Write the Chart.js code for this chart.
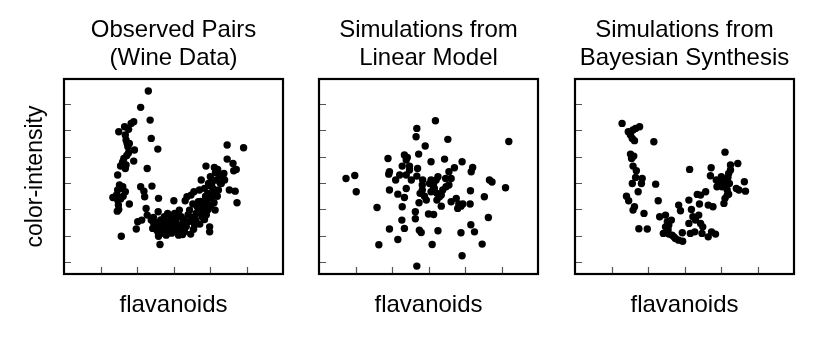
<!DOCTYPE html>
<html>
<head>
<meta charset="utf-8">
<script src="https://cdn.jsdelivr.net/npm/chart.js@4/dist/chart.umd.min.js"></script>
<style>
  body { margin: 0; background: #fff; }
  .panel { position: absolute; top: 0; height: 340px; }
</style>
</head>
<body>
<div class="panel" style="left:0px;width:300px"><canvas id="p1" width="300" height="340"></canvas></div>
<div class="panel" style="left:279px;width:300px"><canvas id="p2" width="300" height="340"></canvas></div>
<div class="panel" style="left:535px;width:295px"><canvas id="p3" width="295" height="340"></canvas></div>
<script>
// axis ticks (no labels shown, ticks point inward)
const xTicks = [0, 1, 2, 3, 4];
const yTicks = [0, 2, 4, 6, 8, 10, 12];
const xLabel = "flavanoids";
const yLabel = "color-intensity";

const titleObserved = ["Observed Pairs", "(Wine Data)"];
const titleLinear = ["Simulations from", "Linear Model"];
const titleBayes = ["Simulations from", "Bayesian Synthesis"];

// [flavanoids, color-intensity]
const observedPairs = [
  [1.31,12.99],[1.10,11.75],[1.36,10.78],[0.91,10.66],[0.84,10.53],[0.66,10.28],[0.77,10.08],[0.50,9.90],
  [0.68,9.65],[0.73,9.00],[0.70,9.27],[0.79,9.01],[1.39,9.39],[0.75,8.76],[0.93,8.51],[0.77,8.30],
  [0.72,8.10],[1.57,8.58],[0.64,7.87],[0.61,7.62],[0.91,7.67],[0.55,7.30],[0.60,7.50],[0.70,7.37],
  [0.68,7.11],[1.28,7.11],[0.47,6.61],[0.52,5.85],[0.57,5.60],[0.61,5.72],[0.47,5.47],[0.68,5.34],
  [0.44,5.10],[0.62,5.00],[0.55,4.80],[0.34,4.91],[0.47,4.71],[0.49,4.33],[0.50,4.00],[0.79,4.41],
  [0.46,3.87],[0.57,1.97],[1.10,5.72],[1.19,5.39],[1.21,4.96],[1.41,5.77],[1.59,4.84],[1.25,4.08],
  [1.28,3.57],[1.58,3.83],[1.02,3.06],[0.98,2.51],[1.13,3.19],[1.39,3.19],[1.46,2.94],[1.43,2.56],
  [1.53,2.48],[1.57,2.30],[1.59,1.97],[1.63,1.34],[1.66,2.73],[1.75,3.44],[1.84,3.70],[1.80,3.06],
  [1.89,2.94],[1.94,3.32],[2.01,4.66],[2.03,3.70],[2.07,3.19],[2.10,2.73],[2.14,2.05],[2.16,3.95],
  [2.21,3.44],[2.26,2.94],[2.30,2.30],[2.32,4.66],[2.37,4.96],[2.44,3.95],[2.47,2.13],[2.48,5.09],
  [2.53,4.41],[2.56,5.34],[2.58,2.81],[2.62,3.70],[2.65,4.20],[2.68,4.58],[2.71,5.47],[2.76,6.23],
  [2.78,3.44],[2.80,3.82],[2.85,3.24],[2.89,7.29],[2.92,4.58],[2.94,5.22],[2.96,5.97],[2.99,2.68],
  [2.99,2.30],[3.01,6.48],[3.05,4.91],[3.08,5.59],[3.11,4.51],[3.12,7.19],[3.14,3.95],[3.17,6.23],
  [3.21,7.04],[3.23,5.47],[3.26,6.61],[3.31,5.97],[3.38,6.73],[3.40,6.23],[3.47,8.89],[3.47,7.82],
  [3.53,5.47],[3.63,7.49],[3.65,6.94],[3.69,5.39],[3.72,7.04],[3.74,4.51],[3.92,8.68],
  [1.50,2.60],[1.55,3.00],[1.62,2.40],[1.70,2.90],[1.72,2.20],[1.78,2.60],[1.85,2.40],[1.90,2.80],
  [1.95,2.20],[1.98,3.00],[2.05,2.50],[2.12,3.50],[2.18,2.80],[2.22,2.40],[2.28,3.20],[2.35,2.70],
  [2.40,3.60],[2.45,3.10],[2.52,3.40],[2.55,2.50],[2.60,3.20],[2.70,3.80],[2.72,2.90],[2.75,4.60],
  [2.82,4.20],[2.88,5.00],[2.90,3.60],[2.95,4.00],[3.00,5.80],[3.05,6.00],[3.10,5.20],[3.15,6.80],
  [3.20,5.00],[3.28,6.00],[3.35,6.40],[3.02,4.30],[2.85,5.60],[1.65,3.20],[1.45,3.40],[2.00,2.40],
  [1.80,2.05],[2.25,2.10]
];

const linearSims = [
  [2.19,10.73],[1.68,10.15],[1.66,9.52],[2.53,9.32],[4.20,9.16],[1.91,8.81],[1.73,8.20],[0.89,7.87],
  [1.34,8.13],[1.42,7.95],[1.39,7.75],[2.44,7.82],[2.07,7.62],[2.92,7.62],[1.28,7.29],[1.48,7.29],
  [1.70,7.11],[3.21,7.19],[3.17,6.86],[2.71,7.16],[0.93,6.86],[0.91,6.68],[1.21,6.61],[1.39,6.61],
  [1.53,6.23],[1.10,6.23],[1.68,6.53],[1.84,6.23],[1.83,5.85],[2.07,6.23],[2.14,5.97],[2.21,6.23],
  [2.26,6.48],[2.56,6.86],[2.47,6.35],[2.62,6.35],[2.56,5.85],[-0.26,6.35],[-0.02,6.58],[0.02,5.34],
  [3.67,6.23],[3.74,6.08],[4.11,5.65],[0.93,5.47],[1.39,5.59],[1.16,5.16],[1.34,4.91],[1.77,5.22],
  [1.89,5.01],[1.94,4.71],[2.16,5.59],[2.23,5.22],[2.30,4.96],[2.39,5.47],[2.48,5.72],[2.23,4.71],
  [1.74,4.51],[2.35,4.25],[2.62,4.58],[2.76,4.84],[2.83,4.41],[2.89,4.25],[2.94,4.41],[2.80,4.08],
  [3.15,5.42],[3.14,4.41],[3.53,4.96],[0.59,4.15],[1.28,4.20],[1.64,3.82],[2.00,3.65],[2.14,3.62],
  [1.27,3.19],[1.64,3.29],[3.64,3.39],[0.93,2.51],[1.34,2.56],[1.75,2.43],[1.80,2.25],[2.26,2.38],
  [3.16,2.84],[2.89,2.23],[3.26,2.30],[1.16,1.72],[0.64,1.32],[2.10,1.34],[3.47,1.37],[2.92,0.48],
  [1.68,-0.30],[2.03,5.97],[2.14,5.67],[2.07,5.34],[1.83,5.47],[2.35,5.09],[1.48,6.99]
];

const bayesSims = [
  [0.29,10.53],[0.46,9.90],[0.52,9.65],[0.57,9.39],[0.63,9.22],[0.66,10.15],[0.77,10.28],[0.59,10.03],
  [1.16,9.14],[0.52,8.20],[0.57,8.00],[0.61,8.05],[0.55,7.87],[0.59,7.29],[0.68,6.94],[0.66,6.43],
  [0.84,6.35],[0.82,5.97],[0.57,5.97],[0.73,5.34],[1.21,5.92],[0.41,5.01],[0.47,4.66],[0.63,4.20],
  [0.59,3.95],[0.89,3.70],[0.75,2.53],[0.98,2.51],[1.28,4.66],[1.32,3.44],[1.48,3.57],[1.53,3.06],
  [1.57,2.81],[1.64,3.19],[1.48,2.68],[1.53,2.43],[1.42,2.18],[1.57,2.13],[1.66,2.05],[1.71,1.92],
  [1.75,1.79],[1.84,1.67],[1.95,1.59],[1.94,2.23],[1.84,4.33],[1.89,3.90],[2.14,7.04],[2.12,4.71],
  [2.19,4.00],[2.12,2.94],[2.16,2.18],[2.28,2.30],[2.23,3.44],[2.30,3.19],[2.39,3.57],[2.35,5.14],
  [2.44,5.09],[2.41,4.41],[2.58,5.34],[2.44,2.94],[2.50,2.68],[2.48,2.18],[2.65,1.92],[2.74,2.30],
  [2.85,2.13],[2.65,4.33],[2.78,4.20],[2.73,7.16],[2.71,6.56],[2.87,6.23],[2.94,5.97],[2.89,5.72],
  [3.11,8.35],[3.01,6.48],[3.08,6.23],[3.14,5.97],[3.03,5.72],[3.19,6.43],[3.23,5.97],[3.17,5.47],
  [3.17,5.09],[3.11,4.84],[3.08,4.46],[3.21,5.16],[3.26,7.37],[3.26,6.99],[3.21,6.73],[3.46,7.49],
  [3.42,5.59],[3.49,5.47],[3.64,6.10],[3.67,5.39],[1.55,2.48]
];

const fontFamily = "'Liberation Sans', Arial, Helvetica, sans-serif";

// box around the plot area plus short inward ticks
const framePlugin = {
  id: "frame",
  afterDraw(chart) {
    const { ctx, chartArea: a, scales: { x, y } } = chart;
    ctx.save();
    ctx.strokeStyle = "#555";
    ctx.lineWidth = 1.2;
    ctx.beginPath();
    xTicks.forEach(v => {
      const px = Math.round(x.getPixelForValue(v)) + 0.5;
      ctx.moveTo(px, a.bottom);
      ctx.lineTo(px, a.bottom - 7);
    });
    yTicks.forEach(v => {
      const py = Math.round(y.getPixelForValue(v)) + 0.5;
      ctx.moveTo(a.left, py);
      ctx.lineTo(a.left + 7, py);
    });
    ctx.stroke();
    ctx.strokeStyle = "#000";
    ctx.lineWidth = 2.2;
    ctx.strokeRect(a.left, a.top, a.right - a.left, a.bottom - a.top);
    ctx.restore();
  }
};

function makePanel(id, title, points, showYLabel, padLeft, padRight) {
  new Chart(document.getElementById(id), {
    type: "scatter",
    data: {
      datasets: [{
        data: points.map(p => ({ x: p[0], y: p[1] })),
        backgroundColor: "#000",
        borderWidth: 0,
        pointRadius: 3.7
      }]
    },
    options: {
      responsive: false,
      animation: false,
      devicePixelRatio: 1,
      events: [],
      layout: { padding: { left: padLeft, right: padRight, top: 0, bottom: 0 } },
      plugins: {
        legend: { display: false },
        tooltip: { enabled: false },
        title: {
          display: true,
          text: title,
          fullSize: false,
          color: "#000",
          font: { family: fontFamily, size: 24, weight: "normal", lineHeight: 1.2 },
          padding: { top: 15.6, bottom: 5.8 }
        }
      },
      scales: {
        x: {
          type: "linear",
          min: -1,
          max: 5,
          grid: { display: false, drawTicks: false },
          border: { display: false },
          ticks: { display: false },
          title: {
            display: true,
            text: xLabel,
            color: "#000",
            font: { family: fontFamily, size: 24, lineHeight: 1.2 },
            padding: { top: 16.6, bottom: 20.6 }
          }
        },
        y: {
          type: "linear",
          min: -0.9,
          max: 13.9,
          grid: { display: false, drawTicks: false },
          border: { display: false },
          ticks: { display: false },
          title: {
            display: showYLabel,
            text: yLabel,
            color: "#000",
            font: { family: fontFamily, size: 23, lineHeight: 1.2 },
            padding: { top: 22, bottom: 14.4 }
          }
        }
      }
    },
    plugins: [framePlugin]
  });
}

makePanel("p1", titleObserved, observedPairs, true, 0, 17);
makePanel("p2", titleLinear, linearSims, false, 40, 41);
makePanel("p3", titleBayes, bayesSims, false, 40, 36);
</script>
</body>
</html>
